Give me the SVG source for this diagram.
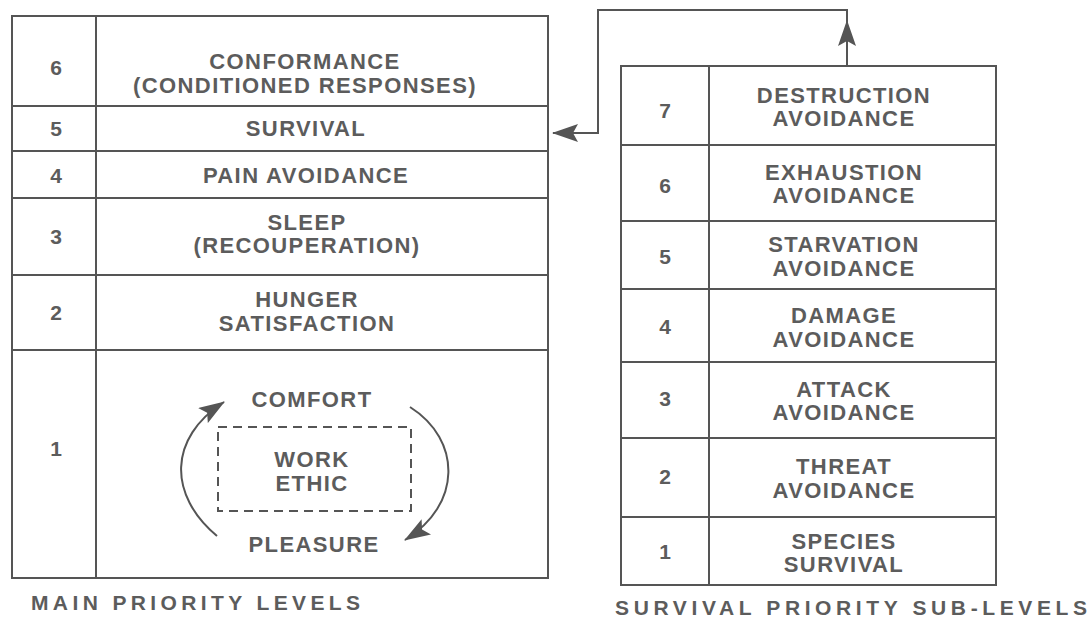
<svg xmlns="http://www.w3.org/2000/svg" width="1091" height="619" viewBox="0 0 1091 619">
<defs>
<style>
.ln{fill:none;stroke:#555;stroke-width:2}
.t{font-family:"Liberation Sans",Arial,sans-serif;font-size:22px;font-weight:bold;fill:#5c5c5c;text-anchor:middle;letter-spacing:1.4px}
.n{font-family:"Liberation Sans",Arial,sans-serif;font-size:21px;font-weight:bold;fill:#5c5c5c;text-anchor:middle}
.cap{font-family:"Liberation Sans",Arial,sans-serif;font-size:21px;font-weight:bold;fill:#5c5c5c}
</style>
<marker id="ah" viewBox="0 0 26 18" refX="25" refY="9" markerWidth="26" markerHeight="18" markerUnits="userSpaceOnUse" orient="auto">
<path d="M0,0 L26,9 L0,18 L5,9 Z" fill="#555"/>
</marker>
</defs>
<rect width="1091" height="619" fill="#fff"/>

<g id="main-table">
<rect class="ln" x="12" y="16" width="536" height="562"/>
<line class="ln" x1="96" y1="16" x2="96" y2="578"/>
<line class="ln" x1="12" y1="106" x2="548" y2="106"/>
<line class="ln" x1="12" y1="151" x2="548" y2="151"/>
<line class="ln" x1="12" y1="198" x2="548" y2="198"/>
<line class="ln" x1="12" y1="275" x2="548" y2="275"/>
<line class="ln" x1="12" y1="350" x2="548" y2="350"/>
</g>
<g id="main-6"><text class="n" x="56" y="75">6</text><text class="t" x="305" y="69">CONFORMANCE</text><text class="t" x="305" y="93">(CONDITIONED RESPONSES)</text></g>
<g id="main-5"><text class="n" x="56" y="136">5</text><text class="t" x="306" y="136">SURVIVAL</text></g>
<g id="main-4"><text class="n" x="56" y="183">4</text><text class="t" x="306" y="183">PAIN AVOIDANCE</text></g>
<g id="main-3"><text class="n" x="56" y="244">3</text><text class="t" x="307" y="230">SLEEP</text><text class="t" x="307" y="253">(RECOUPERATION)</text></g>
<g id="main-2"><text class="n" x="56" y="320">2</text><text class="t" x="307" y="307">HUNGER</text><text class="t" x="307" y="331">SATISFACTION</text></g>
<g id="main-1"><text class="n" x="56" y="456">1</text>
<text class="t" x="312" y="407">COMFORT</text>
<text class="t" x="312" y="467">WORK</text>
<text class="t" x="312" y="491">ETHIC</text>
<text class="t" x="314" y="552">PLEASURE</text>
<rect x="218" y="427" width="193" height="84" fill="none" stroke="#555" stroke-width="2" stroke-dasharray="9,6"/>
</g>
<g id="main-caption"><text class="cap" x="31" y="610" textLength="329" lengthAdjust="spacing">MAIN PRIORITY LEVELS</text></g>

<g id="sub-table">
<rect class="ln" x="621" y="66" width="375" height="519"/>
<line class="ln" x1="709" y1="66" x2="709" y2="585"/>
<line class="ln" x1="621" y1="145" x2="996" y2="145"/>
<line class="ln" x1="621" y1="221" x2="996" y2="221"/>
<line class="ln" x1="621" y1="289" x2="996" y2="289"/>
<line class="ln" x1="621" y1="362" x2="996" y2="362"/>
<line class="ln" x1="621" y1="438" x2="996" y2="438"/>
<line class="ln" x1="621" y1="517" x2="996" y2="517"/>
</g>
<g id="sub-7"><text class="n" x="665" y="118">7</text><text class="t" x="844" y="103">DESTRUCTION</text><text class="t" x="844" y="126">AVOIDANCE</text></g>
<g id="sub-6"><text class="n" x="665" y="193">6</text><text class="t" x="844" y="180">EXHAUSTION</text><text class="t" x="844" y="203">AVOIDANCE</text></g>
<g id="sub-5"><text class="n" x="665" y="264">5</text><text class="t" x="844" y="252">STARVATION</text><text class="t" x="844" y="276">AVOIDANCE</text></g>
<g id="sub-4"><text class="n" x="665" y="334">4</text><text class="t" x="844" y="323">DAMAGE</text><text class="t" x="844" y="347">AVOIDANCE</text></g>
<g id="sub-3"><text class="n" x="665" y="406">3</text><text class="t" x="844" y="397">ATTACK</text><text class="t" x="844" y="420">AVOIDANCE</text></g>
<g id="sub-2"><text class="n" x="665" y="484">2</text><text class="t" x="844" y="474">THREAT</text><text class="t" x="844" y="498">AVOIDANCE</text></g>
<g id="sub-1"><text class="n" x="665" y="559">1</text><text class="t" x="844" y="549">SPECIES</text><text class="t" x="844" y="572">SURVIVAL</text></g>
<g id="sub-caption"><text class="cap" x="615" y="615" textLength="472" lengthAdjust="spacing">SURVIVAL PRIORITY SUB-LEVELS</text></g>

<g id="connectors">
<path class="ln" d="M847,66 V10 H598 V133 H553" marker-end="url(#ah)"/>
<path class="ln" d="M847,60 V21" marker-end="url(#ah)"/>
<path class="ln" d="M217,536 C168,495 168,438 224,402" marker-end="url(#ah)"/>
<path class="ln" d="M410,407 C462,440 462,505 405,540" marker-end="url(#ah)"/>
</g>
</svg>
